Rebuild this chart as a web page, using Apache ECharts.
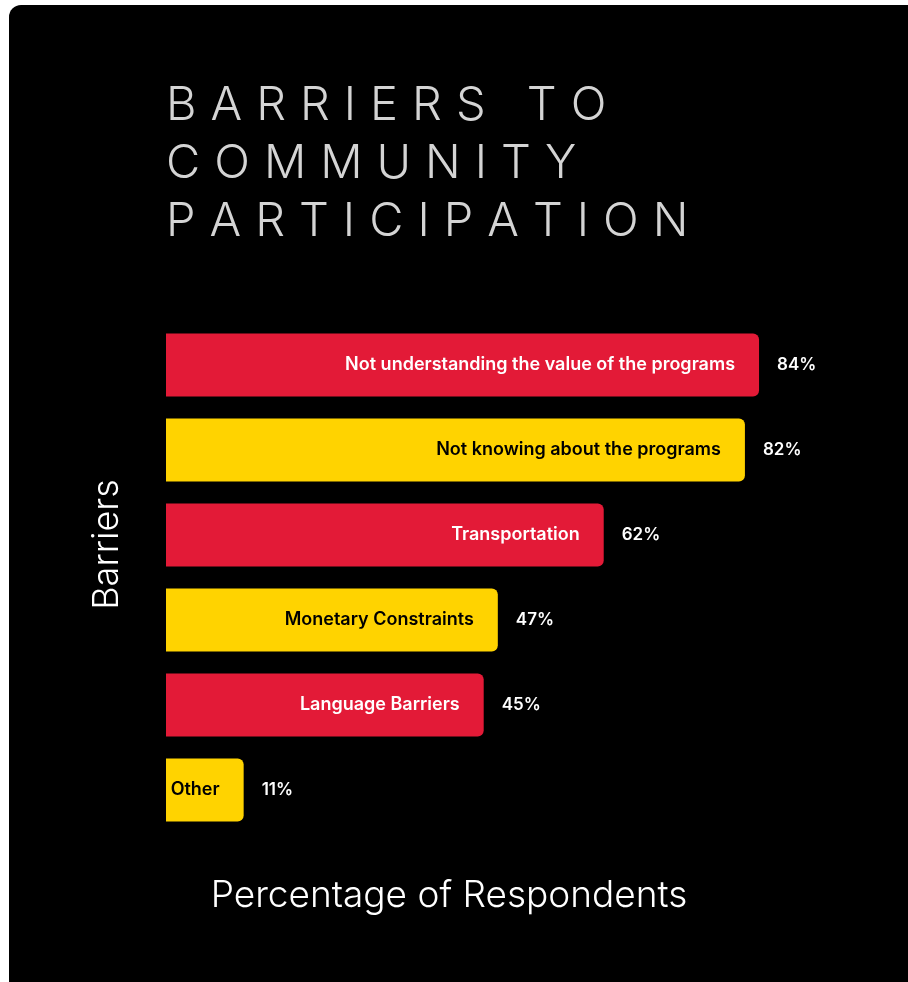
<!DOCTYPE html>
<html>
<head>
<meta charset="utf-8">
<script src="https://cdn.jsdelivr.net/npm/echarts@6/dist/echarts.min.js"></script>
<style>
  html, body { margin: 0; padding: 0; background: #ffffff; }
  #container { width: 908px; height: 982px; }
</style>
</head>
<body>
<div id="container"></div>
<script>
var titleLines = ['BARRIERS TO', 'COMMUNITY', 'PARTICIPATION'];
var barriers = [
    'Not understanding the value of the programs',
    'Not knowing about the programs',
    'Transportation',
    'Monetary Constraints',
    'Language Barriers',
    'Other'
];
var respondents = [84, 82, 62, 47, 45, 11];

var RED = '#E31A37';
var YELLOW = '#FFD300';

// spread the title letters out, each letter is its own rich token
var titleText = titleLines.map(function (line) {
    return line.split('').map(function (ch) { return '{s|' + ch + '}'; }).join('');
}).join('\n');

var chartDom = document.getElementById('container');
var myChart = echarts.init(chartDom);
var option;

option = {
    backgroundColor: '#ffffff',
    animation: false,
    graphic: [
        {
            type: 'rect',
            z: -10,
            left: 9,
            top: 5,
            shape: { width: 940, height: 1000, r: 12 },
            style: { fill: '#000000' }
        }
    ],
    title: {
        text: titleText,
        left: 166,
        top: 77,
        padding: 0,
        textStyle: {
            lineHeight: 58,
            rich: {
                s: {
                    fontFamily: 'Inter, sans-serif',
                    fontWeight: 300,
                    fontSize: 47,
                    lineHeight: 58,
                    color: '#d4d4d4',
                    padding: [0, 14, 0, 0]
                }
            }
        }
    },
    grid: {
        left: 166,
        top: 322.5,
        width: 706,
        height: 510
    },
    xAxis: {
        type: 'value',
        min: 0,
        max: 100,
        name: 'Percentage of Respondents',
        nameLocation: 'middle',
        nameGap: 45,
        nameTextStyle: {
            fontFamily: 'Inter, sans-serif',
            fontWeight: 300,
            fontSize: 37,
            color: '#ffffff',
            padding: [0, 140, 0, 0]
        },
        axisLine: { show: false },
        axisTick: { show: false },
        axisLabel: { show: false },
        splitLine: { show: false }
    },
    yAxis: {
        type: 'category',
        inverse: true,
        data: barriers,
        name: 'Barriers',
        nameLocation: 'middle',
        nameGap: 41,
        nameTextStyle: {
            fontFamily: 'Inter, sans-serif',
            fontWeight: 300,
            fontSize: 36,
            color: '#ffffff',
            padding: [0, 0, 0, 66]
        },
        axisLine: { show: false },
        axisTick: { show: false },
        axisLabel: { show: false },
        splitLine: { show: false }
    },
    series: [
        {
            name: 'Barriers',
            type: 'bar',
            barWidth: 63,
            data: respondents.map(function (v, i) {
                return {
                    value: v,
                    itemStyle: { color: i % 2 ? YELLOW : RED },
                    label: { color: i % 2 ? '#000000' : '#ffffff' }
                };
            }),
            itemStyle: { borderRadius: [0, 6, 6, 0] },
            label: {
                show: true,
                position: 'insideRight',
                distance: 24,
                formatter: '{b}',
                fontFamily: 'Inter, sans-serif',
                fontWeight: 600,
                fontSize: 18
            }
        },
        {
            name: 'Percent',
            type: 'bar',
            barWidth: 63,
            barGap: '-100%',
            silent: true,
            data: respondents,
            itemStyle: { color: 'transparent' },
            label: {
                show: true,
                position: 'right',
                distance: 18,
                formatter: '{c}%',
                fontFamily: 'Inter, sans-serif',
                fontWeight: 600,
                fontSize: 17,
                color: '#ffffff'
            }
        }
    ]
};

option && myChart.setOption(option);
</script>
</body>
</html>
